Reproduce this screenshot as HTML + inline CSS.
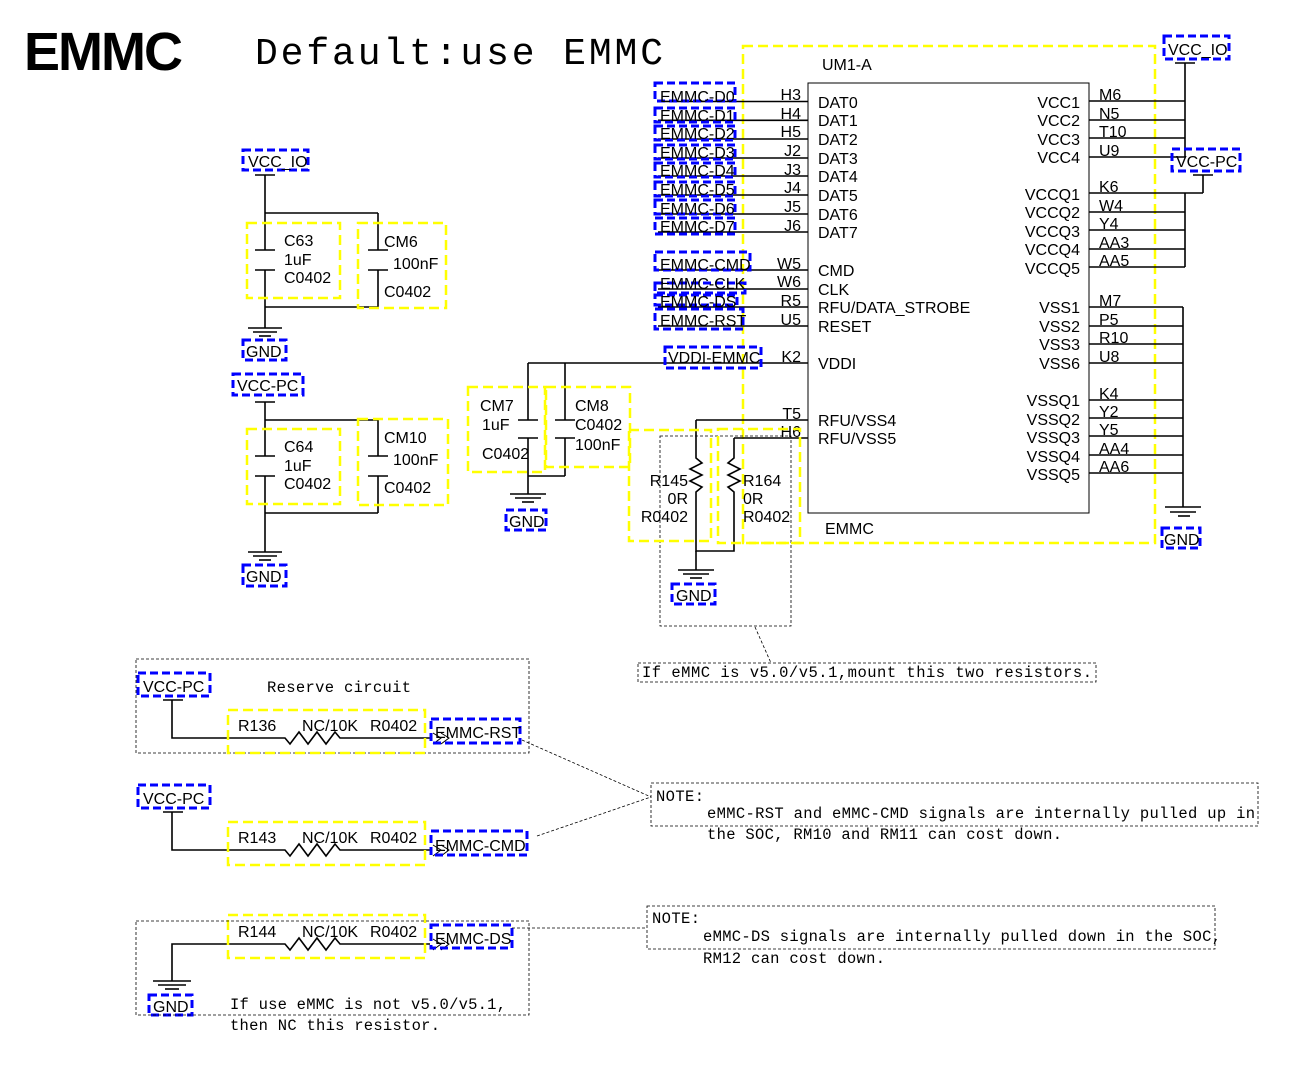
<!DOCTYPE html>
<html><head><meta charset="utf-8"><style>
html,body{margin:0;padding:0;background:#fff;}
svg{display:block;}
.s{font-family:"Liberation Sans",sans-serif;font-size:16px;fill:#000;}
.m{font-family:"Liberation Mono",monospace;font-size:15.5px;fill:#000;}
.w{stroke:#000;stroke-width:1.6;fill:none;}
.t{stroke:#000;stroke-width:1;fill:none;}
.b{stroke:#0000ff;stroke-width:3;fill:none;stroke-dasharray:8 4;}
.y{stroke:#ffff00;stroke-width:2.5;fill:none;stroke-dasharray:10 5;}
.d{stroke:#000;stroke-width:0.8;fill:none;stroke-dasharray:3 2;}
</style></head><body>
<svg width="1292" height="1076" viewBox="0 0 1292 1076" xmlns="http://www.w3.org/2000/svg">
<text x="24" y="70" style="font-family:'Liberation Sans',sans-serif;font-weight:bold;font-size:54px;letter-spacing:-4px" textLength="155">EMMC</text>
<text x="255" y="64" style="font-family:'Liberation Mono',monospace;font-size:38px" textLength="408">Default:use EMMC</text>

<!-- IC -->
<rect x="743" y="46" width="412" height="497" class="y"/>
<rect x="808" y="83" width="281" height="430" class="t"/>
<text class="s" x="822" y="70">UM1-A</text>
<text class="s" x="825" y="534">EMMC</text>

<!-- left pins -->
<g class="w">
<line x1="658" y1="101.5" x2="808" y2="101.5"/><line x1="658" y1="120.3" x2="808" y2="120.3"/>
<line x1="658" y1="139" x2="808" y2="139"/><line x1="658" y1="158" x2="808" y2="158"/>
<line x1="658" y1="176" x2="808" y2="176"/><line x1="658" y1="195" x2="808" y2="195"/>
<line x1="658" y1="214" x2="808" y2="214"/><line x1="658" y1="232" x2="808" y2="232"/>
<line x1="658" y1="270" x2="808" y2="270"/><line x1="658" y1="289" x2="808" y2="289"/>
<line x1="658" y1="307" x2="808" y2="307"/><line x1="658" y1="326" x2="808" y2="326"/>
<line x1="528" y1="363" x2="808" y2="363"/>
<line x1="696" y1="420" x2="808" y2="420"/><line x1="734" y1="438" x2="808" y2="438"/>
</g>
<g class="s" text-anchor="end">
<text x="801" y="100">H3</text><text x="801" y="119">H4</text><text x="801" y="137">H5</text><text x="801" y="156">J2</text>
<text x="801" y="175">J3</text><text x="801" y="193">J4</text><text x="801" y="212">J5</text><text x="801" y="231">J6</text>
<text x="801" y="269">W5</text><text x="801" y="287">W6</text><text x="801" y="306">R5</text><text x="801" y="325">U5</text>
<text x="801" y="362">K2</text><text x="801" y="419">T5</text><text x="801" y="437">H6</text>
</g>
<g class="s">
<text x="818" y="108">DAT0</text><text x="818" y="126">DAT1</text><text x="818" y="145">DAT2</text><text x="818" y="164">DAT3</text>
<text x="818" y="182">DAT4</text><text x="818" y="201">DAT5</text><text x="818" y="220">DAT6</text><text x="818" y="238">DAT7</text>
<text x="818" y="276">CMD</text><text x="818" y="295">CLK</text><text x="818" y="313">RFU/DATA_STROBE</text><text x="818" y="332">RESET</text>
<text x="818" y="369">VDDI</text><text x="818" y="426">RFU/VSS4</text><text x="818" y="444">RFU/VSS5</text>
</g>
<g class="b">
<rect x="655" y="83" width="80" height="18"/><rect x="655" y="108" width="80" height="14"/>
<rect x="655" y="126" width="80" height="14"/><rect x="655" y="145" width="80" height="14"/>
<rect x="655" y="163" width="80" height="14"/><rect x="655" y="182" width="80" height="14"/>
<rect x="655" y="200" width="80" height="14"/><rect x="655" y="218" width="80" height="16"/>
<rect x="655" y="252" width="95" height="18"/><rect x="655" y="283" width="90" height="10"/>
<rect x="655" y="295" width="82" height="10"/><rect x="655" y="309" width="88" height="20"/>
<rect x="665" y="347" width="96" height="21"/>
</g>
<g class="s">
<text x="660" y="102">EMMC-D0</text><text x="660" y="121">EMMC-D1</text><text x="660" y="139">EMMC-D2</text><text x="660" y="158">EMMC-D3</text>
<text x="660" y="176">EMMC-D4</text><text x="660" y="195">EMMC-D5</text><text x="660" y="214">EMMC-D6</text><text x="660" y="232">EMMC-D7</text>
<text x="660" y="270">EMMC-CMD</text><text x="660" y="289">EMMC-CLK</text><text x="660" y="307">EMMC-DS</text><text x="660" y="326">EMMC-RST</text>
<text x="668" y="363">VDDI-EMMC</text>
</g>

<!-- right pins -->
<g class="w">
<line x1="1089" y1="101" x2="1185" y2="101"/><line x1="1089" y1="120" x2="1185" y2="120"/>
<line x1="1089" y1="138" x2="1185" y2="138"/><line x1="1089" y1="157" x2="1185" y2="157"/>
<line x1="1089" y1="193" x2="1185" y2="193"/><line x1="1089" y1="212" x2="1185" y2="212"/>
<line x1="1089" y1="230" x2="1185" y2="230"/><line x1="1089" y1="249" x2="1185" y2="249"/>
<line x1="1089" y1="267" x2="1185" y2="267"/>
<line x1="1089" y1="307" x2="1183" y2="307"/><line x1="1089" y1="326" x2="1183" y2="326"/>
<line x1="1089" y1="344" x2="1183" y2="344"/><line x1="1089" y1="363" x2="1183" y2="363"/>
<line x1="1089" y1="400" x2="1183" y2="400"/><line x1="1089" y1="418" x2="1183" y2="418"/>
<line x1="1089" y1="436" x2="1183" y2="436"/><line x1="1089" y1="455" x2="1183" y2="455"/>
<line x1="1089" y1="473" x2="1183" y2="473"/>
<line x1="1185" y1="63" x2="1185" y2="157"/><line x1="1175" y1="63" x2="1195" y2="63"/>
<line x1="1193" y1="175" x2="1213" y2="175"/><line x1="1203" y1="175" x2="1203" y2="193"/><line x1="1185" y1="193" x2="1203" y2="193"/>
<line x1="1185" y1="193" x2="1185" y2="267"/>
<line x1="1183" y1="307" x2="1183" y2="507"/>
<line x1="1165" y1="507" x2="1201" y2="507"/><line x1="1170" y1="512" x2="1196" y2="512"/><line x1="1178" y1="516" x2="1190" y2="516"/>
</g>
<g class="s">
<text x="1099" y="100">M6</text><text x="1099" y="119">N5</text><text x="1099" y="137">T10</text><text x="1099" y="156">U9</text>
<text x="1099" y="192">K6</text><text x="1099" y="211">W4</text><text x="1099" y="229">Y4</text><text x="1099" y="248">AA3</text><text x="1099" y="266">AA5</text>
<text x="1099" y="306">M7</text><text x="1099" y="325">P5</text><text x="1099" y="343">R10</text><text x="1099" y="362">U8</text>
<text x="1099" y="399">K4</text><text x="1099" y="417">Y2</text><text x="1099" y="435">Y5</text><text x="1099" y="454">AA4</text><text x="1099" y="472">AA6</text>
</g>
<g class="s" text-anchor="end">
<text x="1080" y="108">VCC1</text><text x="1080" y="126">VCC2</text><text x="1080" y="145">VCC3</text><text x="1080" y="163">VCC4</text>
<text x="1080" y="200">VCCQ1</text><text x="1080" y="218">VCCQ2</text><text x="1080" y="237">VCCQ3</text><text x="1080" y="255">VCCQ4</text><text x="1080" y="274">VCCQ5</text>
<text x="1080" y="313">VSS1</text><text x="1080" y="332">VSS2</text><text x="1080" y="350">VSS3</text><text x="1080" y="369">VSS6</text>
<text x="1080" y="406">VSSQ1</text><text x="1080" y="425">VSSQ2</text><text x="1080" y="443">VSSQ3</text><text x="1080" y="462">VSSQ4</text><text x="1080" y="480">VSSQ5</text>
</g>
<g class="b"><rect x="1164" y="36" width="65" height="23"/><rect x="1172" y="149" width="68" height="22"/><rect x="1162" y="528" width="38" height="20"/></g>
<g class="s"><text x="1168" y="55">VCC_IO</text><text x="1176" y="167">VCC-PC</text><text x="1164" y="545">GND</text></g>

<!-- cap group 1 -->
<g class="w">
<line x1="255" y1="175" x2="275" y2="175"/><line x1="265" y1="175" x2="265" y2="250"/>
<line x1="265" y1="213" x2="378" y2="213"/><line x1="378" y1="213" x2="378" y2="250"/>
<line x1="255" y1="250" x2="275" y2="250"/><line x1="255" y1="270" x2="275" y2="270"/>
<line x1="368" y1="250" x2="388" y2="250"/><line x1="368" y1="270" x2="388" y2="270"/>
<line x1="265" y1="270" x2="265" y2="328"/><line x1="378" y1="270" x2="378" y2="307"/><line x1="265" y1="307" x2="378" y2="307"/>
<line x1="248" y1="328" x2="282" y2="328"/><line x1="253" y1="332" x2="277" y2="332"/><line x1="259" y1="336" x2="271" y2="336"/>
</g>
<rect x="247" y="223" width="93" height="75" class="y"/><rect x="358" y="223" width="88" height="85" class="y"/>
<g class="s"><text x="284" y="246">C63</text><text x="284" y="265">1uF</text><text x="284" y="283">C0402</text>
<text x="384" y="247">CM6</text><text x="393" y="269">100nF</text><text x="384" y="297">C0402</text></g>
<g class="b"><rect x="243" y="150" width="65" height="20"/><rect x="243" y="340" width="43" height="20"/></g>
<g class="s"><text x="248" y="167">VCC_IO</text><text x="246" y="357">GND</text></g>

<!-- cap group 2 -->
<g class="w">
<line x1="255" y1="402" x2="275" y2="402"/><line x1="265" y1="402" x2="265" y2="456"/>
<line x1="265" y1="420" x2="378" y2="420"/><line x1="378" y1="420" x2="378" y2="456"/>
<line x1="255" y1="456" x2="275" y2="456"/><line x1="255" y1="476" x2="275" y2="476"/>
<line x1="368" y1="456" x2="388" y2="456"/><line x1="368" y1="476" x2="388" y2="476"/>
<line x1="265" y1="476" x2="265" y2="552"/><line x1="378" y1="476" x2="378" y2="513"/><line x1="265" y1="513" x2="378" y2="513"/>
<line x1="248" y1="552" x2="282" y2="552"/><line x1="253" y1="556" x2="277" y2="556"/><line x1="259" y1="560" x2="271" y2="560"/>
</g>
<rect x="247" y="429" width="93" height="75" class="y"/><rect x="358" y="419" width="90" height="86" class="y"/>
<g class="s"><text x="284" y="452">C64</text><text x="284" y="471">1uF</text><text x="284" y="489">C0402</text>
<text x="384" y="443">CM10</text><text x="393" y="465">100nF</text><text x="384" y="493">C0402</text></g>
<g class="b"><rect x="233" y="374" width="70" height="21"/><rect x="243" y="565" width="43" height="21"/></g>
<g class="s"><text x="237" y="391">VCC-PC</text><text x="246" y="582">GND</text></g>

<!-- CM7 CM8 -->
<g class="w">
<line x1="528" y1="363" x2="528" y2="420"/><line x1="565" y1="363" x2="565" y2="420"/>
<line x1="518" y1="420" x2="538" y2="420"/><line x1="518" y1="438" x2="538" y2="438"/>
<line x1="555" y1="420" x2="575" y2="420"/><line x1="555" y1="438" x2="575" y2="438"/>
<line x1="528" y1="438" x2="528" y2="494"/><line x1="565" y1="438" x2="565" y2="476"/><line x1="528" y1="476" x2="565" y2="476"/>
<line x1="510" y1="494" x2="546" y2="494"/><line x1="515" y1="498" x2="541" y2="498"/><line x1="522" y1="502" x2="534" y2="502"/>
</g>
<rect x="468" y="387" width="77" height="85" class="y"/><rect x="546" y="387" width="84" height="80" class="y"/>
<g class="s"><text x="480" y="411">CM7</text><text x="482" y="430">1uF</text><text x="482" y="459">C0402</text>
<text x="575" y="411">CM8</text><text x="575" y="430">C0402</text><text x="575" y="450">100nF</text></g>
<rect x="506" y="510" width="40" height="20" class="b"/><text class="s" x="509" y="527">GND</text>

<!-- R145 R164 -->
<g class="w">
<polyline points="696,420 696,458 702,463 690,469 702,475 690,481 702,487 696,492 696,551 734,551 734,492 728,487 740,481 728,475 740,469 728,463 734,458 734,438"/>
<line x1="696" y1="551" x2="696" y2="570"/>
<line x1="678" y1="570" x2="714" y2="570"/><line x1="683" y1="574" x2="709" y2="574"/><line x1="690" y1="578" x2="702" y2="578"/>
</g>
<rect x="660" y="436" width="131" height="190" class="d"/>
<rect x="629" y="430" width="82" height="111" class="y"/><rect x="718" y="429" width="82" height="114" class="y"/>
<g class="s"><text x="688" y="486" text-anchor="end">R145</text><text x="688" y="504" text-anchor="end">0R</text><text x="688" y="522" text-anchor="end">R0402</text>
<text x="743" y="486">R164</text><text x="743" y="504">0R</text><text x="743" y="522">R0402</text></g>
<rect x="672" y="584" width="43" height="20" class="b"/><text class="s" x="676" y="601">GND</text>
<line x1="755" y1="627" x2="771" y2="663" class="d"/>
<rect x="638" y="663" width="458" height="19" class="d"/>
<text class="m" x="642" y="677" textLength="450">If eMMC is  v5.0/v5.1,mount this two resistors.</text>

<!-- Reserve circuits -->
<rect x="136" y="659" width="393" height="94" class="d"/>
<text class="m" x="267" y="692" textLength="144">Reserve circuit</text>
<g class="w">
<line x1="163" y1="700" x2="183" y2="700"/>
<polyline points="172,700 172,738 285,738 290,744 299,732 308,744 317,732 326,744 335,732 340,738 430,738"/>
<line x1="163" y1="812" x2="183" y2="812"/>
<polyline points="172,812 172,850 285,850 290,856 299,844 308,856 317,844 326,856 335,844 340,850 430,850"/>
<polyline points="172,981 172,944 285,944 290,950 299,938 308,950 317,938 326,950 335,938 340,944 430,944"/>
<line x1="153" y1="981" x2="191" y2="981"/><line x1="158" y1="985" x2="186" y2="985"/><line x1="165" y1="989" x2="179" y2="989"/>
</g>
<g class="t">
<polyline points="433,733 441,738 433,744"/><polyline points="441,733 449,738 441,744"/>
<polyline points="433,845 441,850 433,856"/><polyline points="441,845 449,850 441,856"/>
<polyline points="433,939 441,944 433,950"/><polyline points="441,939 449,944 441,950"/>
</g>
<rect x="228" y="710" width="197" height="43" class="y"/>
<rect x="228" y="822" width="197" height="43" class="y"/>
<rect x="228" y="915" width="197" height="43" class="y"/>
<g class="s">
<text x="238" y="731">R136</text><text x="302" y="731">NC/10K</text><text x="370" y="731">R0402</text>
<text x="238" y="843">R143</text><text x="302" y="843">NC/10K</text><text x="370" y="843">R0402</text>
<text x="238" y="937">R144</text><text x="302" y="937">NC/10K</text><text x="370" y="937">R0402</text>
</g>
<g class="b">
<rect x="138" y="673" width="72" height="23"/><rect x="431" y="719" width="89" height="24"/>
<rect x="138" y="785" width="72" height="23"/><rect x="431" y="831" width="96" height="24"/>
<rect x="431" y="925" width="81" height="23"/><rect x="149" y="995" width="43" height="20"/>
</g>
<g class="s">
<text x="143" y="692">VCC-PC</text><text x="435" y="738">EMMC-RST</text>
<text x="143" y="804">VCC-PC</text><text x="435" y="851">EMMC-CMD</text>
<text x="435" y="944">EMMC-DS</text><text x="153" y="1012">GND</text>
</g>
<rect x="136" y="921" width="393" height="94" class="d"/>
<text class="m" x="230" y="1009" textLength="276">If use eMMC is not v5.0/v5.1,</text>
<text class="m" x="230" y="1030" textLength="210">then NC this resistor.</text>

<!-- notes -->
<line x1="522" y1="740" x2="651" y2="797" class="d"/>
<line x1="537" y1="836" x2="651" y2="797" class="d"/>
<rect x="651" y="783" width="607" height="43" class="d"/>
<text class="m" x="656" y="801" textLength="48">NOTE:</text>
<text class="m" x="707" y="818" textLength="548">eMMC-RST and eMMC-CMD signals are internally pulled up in</text>
<text class="m" x="707" y="839" textLength="355">the SOC, RM10 and RM11 can cost down.</text>
<line x1="512" y1="928" x2="647" y2="928" class="d"/>
<rect x="647" y="906" width="568" height="43" class="d"/>
<text class="m" x="652" y="923" textLength="48">NOTE:</text>
<text class="m" x="703" y="941" textLength="518">eMMC-DS signals are internally pulled down in the SOC,</text>
<text class="m" x="703" y="963" textLength="182">RM12 can cost down.</text>
</svg>
</body></html>
